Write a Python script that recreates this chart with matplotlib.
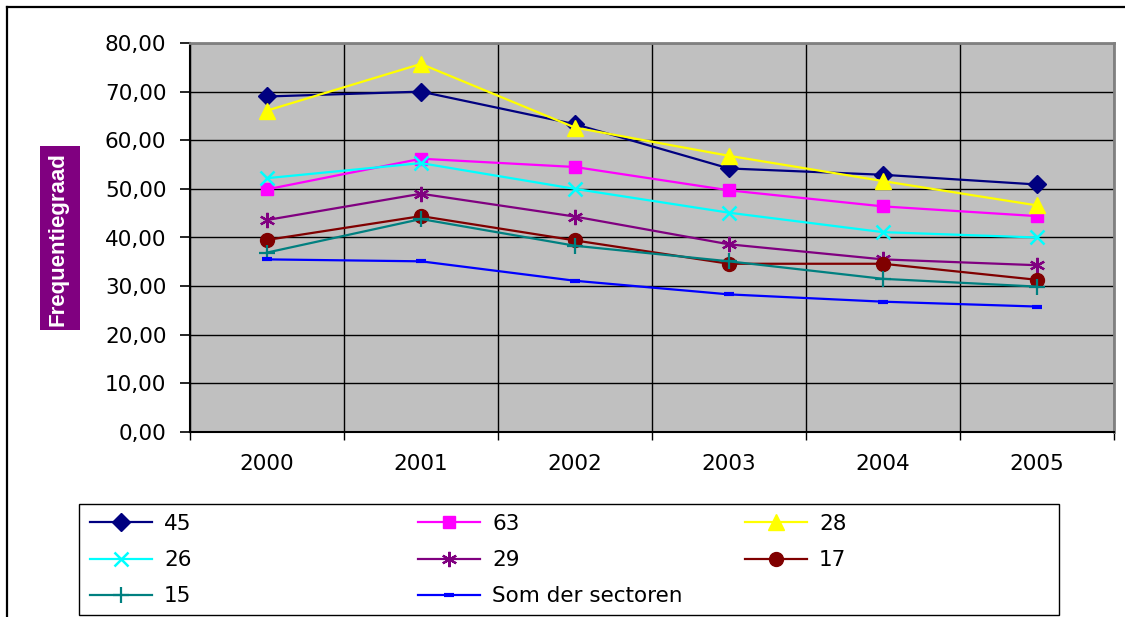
import matplotlib
matplotlib.use("Agg")
import matplotlib.pyplot as plt
from matplotlib import font_manager
from matplotlib.patches import Rectangle
from matplotlib.lines import Line2D
from matplotlib.ticker import FuncFormatter, MultipleLocator

years = ["2000", "2001", "2002", "2003", "2004", "2005"]

s45 = [69.0, 70.0, 63.3, 54.2, 52.9, 50.9]
s63 = [49.9, 56.2, 54.5, 49.7, 46.4, 44.4]
s28 = [66.1, 75.7, 62.6, 56.8, 51.6, 46.6]
s26 = [52.2, 55.3, 50.0, 45.1, 41.1, 40.0]
s29 = [43.6, 49.0, 44.3, 38.6, 35.5, 34.3]
s17 = [39.5, 44.4, 39.4, 34.6, 34.6, 31.3]
s15 = [36.9, 43.8, 38.3, 35.1, 31.5, 29.9]
som = [35.5, 35.1, 31.1, 28.3, 26.8, 25.8]

names = ["45", "63", "28", "26", "29", "17", "15", "Som der sectoren"]

W, H = 1125, 617
fig = plt.figure(figsize=(W / 100, H / 100), dpi=100)

def fx(px):
    return px / W

def fy(py):
    return 1 - py / H

installed = {f.name for f in font_manager.fontManager.ttflist}
narrow_font = "Liberation Sans Narrow" if "Liberation Sans Narrow" in installed else "Liberation Sans"
# the source chart's text is stretched sideways, a wide face is the closest fit
plt.rcParams["font.family"] = "DejaVu Sans"
FS = 15.5

# outer chart border (only top/left visible in the crop)
fig.add_artist(Line2D([fx(7), fx(7)], [fy(7), 0], color="black", lw=1.6))
fig.add_artist(Line2D([fx(7), 1], [fy(7), fy(7)], color="black", lw=1.6))

ax = fig.add_axes([fx(190), fy(432), fx(1114) - fx(190), fy(43) - fy(432)])
ax.set_facecolor("#C0C0C0")

x = list(range(len(years)))
styles = [
    (s45, "#000080", dict(marker="D", ms=9)),
    (s63, "#FF00FF", dict(marker="s", ms=9)),
    (s28, "#FFFF00", dict(marker="^", ms=11)),
    (s26, "#00FFFF", dict(marker="x", ms=10, mew=1.8)),
    (s29, "#800080", dict(marker=(6, 2, 0), ms=11, mew=1.6)),
    (s17, "#800000", dict(marker="o", ms=10)),
    (s15, "#008080", dict(marker="+", ms=12, mew=1.6)),
    (som, "#0000FF", dict(marker="_", ms=7, mew=3)),
]
handles = []
for (vals, col, mk), name in zip(styles, names):
    h, = ax.plot(x, vals, color=col, lw=1.6, mfc=col, mec=col, label=name,
                 clip_on=False, zorder=3, **mk)
    handles.append(h)

ax.set_xlim(-0.5, 5.5)
ax.set_ylim(0, 80)
ax.yaxis.set_major_locator(MultipleLocator(10))
ax.yaxis.set_major_formatter(FuncFormatter(lambda v, p: f"{v:.2f}".replace(".", ",")))
ax.set_xticks(x)
ax.set_xticklabels(years)
ax.set_xticks([i - 0.5 for i in range(len(years) + 1)], minor=True)

ax.grid(True, which="major", axis="y", color="black", lw=1.0)
ax.grid(True, which="minor", axis="x", color="black", lw=1.0)
ax.set_axisbelow(True)

ax.tick_params(axis="y", direction="out", length=7, width=1.2, pad=10,
               labelsize=FS, colors="black")
ax.tick_params(axis="x", which="major", length=0, pad=16, labelsize=FS)
ax.tick_params(axis="x", which="minor", direction="out", length=6, width=1.0)

for side in ("top", "right"):
    ax.spines[side].set_color("#808080")
    ax.spines[side].set_linewidth(2)
for side in ("left", "bottom"):
    ax.spines[side].set_color("black")
    ax.spines[side].set_linewidth(1.5)

# y axis title in a purple box
fig.add_artist(Rectangle((fx(40), fy(330)), fx(80) - fx(40), fy(146) - fy(330),
                         transform=fig.transFigure, facecolor="#800080", edgecolor="none"))
fig.text(fx(58), fy(239), "Frequentiegraad", rotation=90, color="white",
         fontweight="bold", fontsize=16, family=narrow_font, ha="center", va="center")

# legend box + three columns
fig.add_artist(Rectangle((fx(79), fy(615)), fx(1059) - fx(79), fy(504) - fy(615),
                         transform=fig.transFigure, facecolor="white",
                         edgecolor="black", lw=1.0))
cols = [[0, 3, 6], [1, 4, 7], [2, 5]]
col_x = [90, 418, 745]
for idx, cx in zip(cols, col_x):
    fig.legend([handles[i] for i in idx], [names[i] for i in idx],
               loc="upper left", bbox_to_anchor=(fx(cx), fy(514)),
               frameon=False, fontsize=FS, handlelength=2.88,
               handletextpad=0.56, labelspacing=0.75, borderpad=0,
               borderaxespad=0, numpoints=1)

fig.savefig("out.png", dpi=100)
